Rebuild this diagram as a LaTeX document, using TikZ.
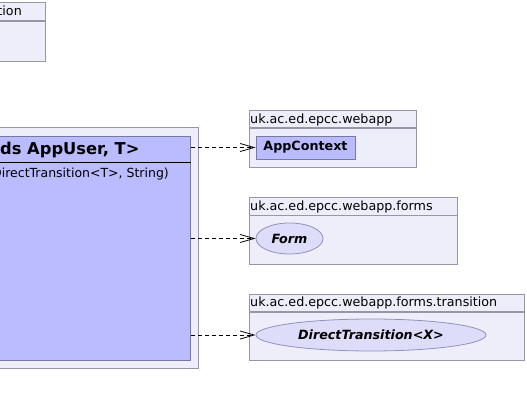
\documentclass[tikz,border=0pt]{standalone}
\usepackage{fontspec}
\setmainfont{DejaVu Sans}
\usetikzlibrary{arrows.meta, positioning, shapes.geometric, fit}

\definecolor{pkgfill}{RGB}{238, 238, 251}
\definecolor{pkgline}{RGB}{150, 150, 168}
\definecolor{classfill}{RGB}{187, 187, 255}
\definecolor{classline}{RGB}{120, 120, 165}
\definecolor{ifacefill}{RGB}{221, 221, 250}
\definecolor{ifaceline}{RGB}{145, 145, 190}

\begin{document}
\begin{tikzpicture}[x=1pt, y=-1pt,
  pkg/.style={draw=pkgline, fill=pkgfill, line width=0.9pt, inner sep=0pt},
  pkgname/.style={font=\fontsize{12.7}{14}\selectfont, inner sep=0pt, anchor=base west},
  classbox/.style={draw=classline, fill=classfill, line width=0.9pt, inner sep=0pt},
  iface/.style={ellipse, draw=ifaceline, fill=ifacefill, line width=0.8pt, inner sep=0pt, font=\fontsize{12.7}{14}\selectfont\bfseries\itshape},
  dep/.style={dash pattern=on 4pt off 3pt, line width=0.8pt, -{Straight Barb[length=14pt, width=8pt]}}
]
  \useasboundingbox (0,0) rectangle (527,406);

  % package cut off at the top left
  \node[pkg, anchor=north east, minimum width=66pt, minimum height=18pt] (toptab) at (45.5,2.5) {};
  \node[pkg, anchor=north, minimum width=66pt, minimum height=40pt] (topbody) at (toptab.south) {};
  \node[pkgname, anchor=base east] (toplabel) at (22,15.6) {tion};

  % package holding the class
  \draw[pkg] (-25,127.5) rectangle (198.5,368.5);
  \coordinate (classnw) at (-15,136.5);
  \coordinate (classse) at (190.5,360.5);
  \node[classbox, fit=(classnw)(classse)] (appclass) {};
  \draw[line width=1.8pt] (appclass.west |- 0,162.5) -- (appclass.east |- 0,162.5);
  \node[inner sep=0pt, anchor=base west, font=\fontsize{16.3}{18}\selectfont\bfseries] (classname) at (0,155) {ds AppUser, T>};
  \node[inner sep=0pt, anchor=base east, font=\fontsize{12.5}{14}\selectfont] (ctor) at (169,178) {DirectTransition<T>, String)};

  % uk.ac.ed.epcc.webapp
  \node[pkg, anchor=north west, minimum width=167pt, minimum height=17pt] (webtab) at (248.5,110.5) {};
  \node[pkg, anchor=north, minimum width=167pt, minimum height=39pt] (webbody) at (webtab.south) {};
  \node[pkgname] (weblabel) at (250,123.6) {uk.ac.ed.epcc.webapp};
  \node[classbox, minimum width=99pt, minimum height=23pt, font=\fontsize{12.7}{14}\selectfont\bfseries] (ctx) at (305.5,147.5) {AppContext};

  % uk.ac.ed.epcc.webapp.forms
  \node[pkg, anchor=north west, minimum width=208pt, minimum height=17pt] (formstab) at (248.5,197.5) {};
  \node[pkg, anchor=north, minimum width=208pt, minimum height=49pt] (formsbody) at (formstab.south) {};
  \node[pkgname] (formslabel) at (250,210.4) {uk.ac.ed.epcc.webapp.forms};
  \node[iface, minimum width=67pt, minimum height=31pt] (form) at (289.5,238.5) {Form};

  % uk.ac.ed.epcc.webapp.forms.transition
  \node[pkg, anchor=north west, minimum width=275pt, minimum height=17.5pt] (transtab) at (248.5,293.5) {};
  \node[pkg, anchor=north, minimum width=275pt, minimum height=48.5pt] (transbody) at (transtab.south) {};
  \node[pkgname] (translabel) at (250,306.6) {uk.ac.ed.epcc.webapp.forms.transition};
  \node[iface, minimum width=230pt, minimum height=32pt] (trans) at (371,335) {DirectTransition<X>};

  % dependencies
  \draw[dep] (appclass.east |- ctx.west) -- (ctx.west);
  \draw[dep] (appclass.east |- form.west) -- (form.west);
  \draw[dep] (appclass.east |- trans.west) -- (trans.west);
\end{tikzpicture}
\end{document}
